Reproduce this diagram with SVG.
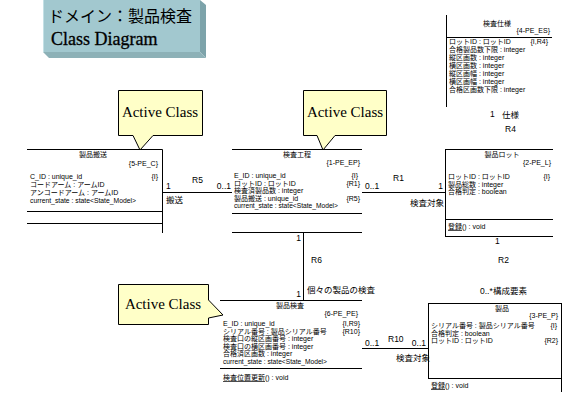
<svg xmlns="http://www.w3.org/2000/svg" width="580" height="415" viewBox="0 0 580 415">
<style>
.ln{stroke:#000;stroke-width:1;fill:none}
.t{font-family:"Liberation Sans","Noto Sans CJK JP",sans-serif;font-size:7px;fill:#000}
.m{text-anchor:middle}
.r{text-anchor:end}
.al{font-family:"Liberation Sans","Noto Sans CJK JP",sans-serif;font-size:8.5px;fill:#000}
.ac{font-family:"Liberation Serif",serif;font-size:15px;text-anchor:middle;fill:#000}
.co{fill:#FFFFC8;stroke:#000;stroke-width:1}
.u{text-decoration:underline}
</style>
<rect width="580" height="415" fill="#fff"/>
<g id="title">
<rect x="43" y="0" width="157" height="52" fill="#A2C8CF"/>
<polygon points="200,0 206,5 206,58 200,52" fill="#7DA3AA"/>
<polygon points="43,52 200,52 206,58 49,58" fill="#8DB1B7"/>
<line x1="43.5" y1="0" x2="43.5" y2="52" stroke="#C4E0E5"/>
<text x="48" y="22" style="font-family:'Noto Sans CJK JP',sans-serif;font-size:16px">ドメイン：製品検査</text>
<text x="51" y="45" style="font-family:'Liberation Serif',serif;font-size:18px;stroke:#000;stroke-width:0.3">Class Diagram</text>
</g>
<g id="callout1">
<path class="co" d="M118.5,90.5 H202.5 V135.5 H153 L140,150 L133,135.5 H118.5 Z"/>
<text class="ac" x="160" y="117">Active Class</text>
</g>
<g id="callout2">
<path class="co" d="M303.5,90.5 H386.5 V135.5 H335 L323,150 L317,135.5 H303.5 Z"/>
<text class="ac" x="345" y="117">Active Class</text>
</g>
<g id="callout3">
<path class="co" d="M118.5,284.5 H208.5 V300 L223,315 L208.5,318 V324.5 H118.5 Z"/>
<text class="ac" x="163" y="309">Active Class</text>
</g>
<g id="class-seihin-hansou">
<path class="ln" d="M27,149.5 H162.5 V233 M27,211.5 H162.5 M27,223.5 H162.5"/>
<text class="t m" x="93" y="157">製品搬送</text>
<text class="t r" x="158" y="166">{5-PE_C}</text>
<text class="t" x="30" y="179">C_ID : unique_id</text>
<text class="t r" x="158" y="179">{I}</text>
<text class="t" x="30" y="187">コードアーム : アームID</text>
<text class="t" x="30" y="195">アンコードアーム : アームID</text>
<text class="t" x="30" y="203" textLength="106" lengthAdjust="spacingAndGlyphs">current_state : state&lt;State_Model&gt;</text>
</g>
<g id="class-kensa-koutei">
<path class="ln" d="M232,149.5 H362 M232,213.5 H362 M232,232.5 H362"/>
<text class="t m" x="297" y="157">検査工程</text>
<text class="t r" x="360" y="165">{1-PE_EP}</text>
<text class="t" x="234" y="178">E_ID : unique_id</text>
<text class="t r" x="358" y="178">{I}</text>
<text class="t" x="234" y="185.5">ロットID : ロットID</text>
<text class="t r" x="360" y="185.5">{R1}</text>
<text class="t" x="234" y="193">検査済製品数 : integer</text>
<text class="t" x="234" y="200.5">製品搬送 : unique_id</text>
<text class="t r" x="360" y="200.5">{R5}</text>
<text class="t" x="234" y="208" textLength="104" lengthAdjust="spacingAndGlyphs">current_state : state&lt;State_Model&gt;</text>
</g>
<g id="class-seihin-lot">
<path class="ln" d="M445.5,149.5 V236.5 M445,149.5 H553 M445,219.5 H553 M445,236.5 H553"/>
<text class="t m" x="502" y="157">製品ロット</text>
<text class="t r" x="551" y="165">{2-PE_L}</text>
<text class="t" x="448" y="179">ロットID : ロットID</text>
<text class="t r" x="550" y="179">{I}</text>
<text class="t" x="448" y="186.5">製品総数 : integer</text>
<text class="t" x="448" y="194">合格判定 : boolean</text>
<text class="t" x="448" y="229"><tspan class="u">登録</tspan>() : void</text>
</g>
<g id="class-kensa-shiyou">
<path class="ln" d="M446.5,15 V107 M446,37.5 H552"/>
<text class="t m" x="497" y="26">検査仕様</text>
<text class="t r" x="550" y="33">{4-PE_ES}</text>
<text class="t" x="449" y="44">ロットID : ロットID</text>
<text class="t r" x="548" y="44">{I,R4}</text>
<text class="t" x="449" y="52">合格製品数下限 : integer</text>
<text class="t" x="449" y="60">縦区画数 : integer</text>
<text class="t" x="449" y="68">横区画数 : integer</text>
<text class="t" x="449" y="76">縦区画幅 : integer</text>
<text class="t" x="449" y="84">横区画幅 : integer</text>
<text class="t" x="449" y="92">合格区画数下限 : integer</text>
</g>
<g id="class-seihin-kensa">
<path class="ln" d="M220,300.5 H362 M220,368.5 H362"/>
<text class="t m" x="290" y="308">製品検査</text>
<text class="t r" x="358" y="316">{6-PE_PE}</text>
<text class="t" x="223" y="326">E_ID : unique_id</text>
<text class="t r" x="360" y="326">{I,R9}</text>
<text class="t" x="223" y="333.5">シリアル番号 : 製品シリアル番号</text>
<text class="t r" x="360" y="333.5">{R10}</text>
<text class="t" x="223" y="341">検査口の縦区画番号 : integer</text>
<text class="t" x="223" y="348.5">検査口の横区画番号 : integer</text>
<text class="t" x="223" y="356">合格済区画数 : integer</text>
<text class="t" x="223" y="363.5" textLength="104" lengthAdjust="spacingAndGlyphs">current_state : state&lt;State_Model&gt;</text>
<text class="t" x="223" y="380"><tspan class="u">検査位置更新</tspan>() : void</text>
</g>
<g id="class-seihin">
<path class="ln" d="M428,303.5 H562 M428.5,303 V378.5 M561.5,303 V392 M428,378.5 H562"/>
<text class="t m" x="502" y="311">製品</text>
<text class="t r" x="558" y="318">{3-PE_P}</text>
<text class="t" x="431" y="328">シリアル番号 : 製品シリアル番号</text>
<text class="t r" x="557" y="328">{I}</text>
<text class="t" x="431" y="335.5">合格判定 : boolean</text>
<text class="t" x="431" y="343">ロットID : ロットID</text>
<text class="t r" x="558" y="343">{R2}</text>
<text class="t" x="431" y="388"><tspan class="u">登録</tspan>() : void</text>
</g>
<g id="connectors">
<path class="ln" d="M162.5,192.5 H232 M362,192.5 H445 M303.5,232.5 V300 M362,348.5 H428"/>
<text class="al" x="166" y="189">1</text>
<text class="al" x="192" y="183">R5</text>
<text class="al r" x="231" y="189">0..1</text>
<text class="al" x="166" y="203">搬送</text>
<text class="al" x="365" y="189">0..1</text>
<text class="al" x="393" y="181">R1</text>
<text class="al r" x="443" y="189">1</text>
<text class="al" x="410" y="206">検査対象</text>
<text class="al r" x="301" y="241">1</text>
<text class="al" x="311" y="263">R6</text>
<text class="al r" x="301" y="297">1</text>
<text class="al" x="307" y="293">個々の製品の検査</text>
<text class="al" x="365" y="346">0..1</text>
<text class="al" x="388" y="342">R10</text>
<text class="al r" x="426" y="346">0..1</text>
<text class="al" x="396" y="361">検査対象</text>
<text class="al" x="490" y="117">1</text>
<text class="al" x="502" y="118">仕様</text>
<text class="al" x="505" y="132">R4</text>
<text class="al" x="495" y="244">1</text>
<text class="al" x="498" y="263">R2</text>
<text class="al" x="480" y="294">0..*</text>
<text class="al" x="493" y="294">構成要素</text>
</g>
</svg>
